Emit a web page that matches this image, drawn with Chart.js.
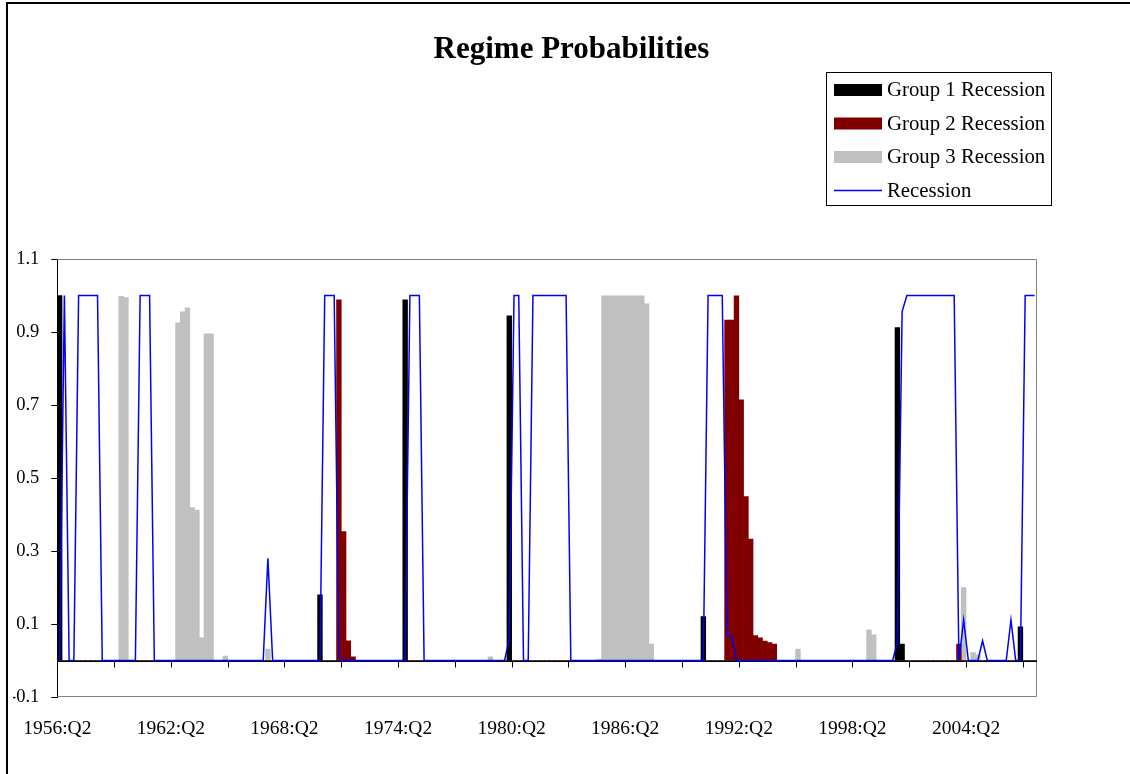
<!DOCTYPE html>
<html>
<head>
<meta charset="utf-8">
<script src="https://cdn.jsdelivr.net/npm/chart.js@4"></script>
<style>
  html, body { margin: 0; padding: 0; background: #fff; }
  canvas { display: block; }
</style>
</head>
<body>
<canvas id="c" width="1130" height="774"></canvas>
<script>
// Quarterly categories, 1956:Q2 through 2007:Q4
const startYear = 1956;
const startQuarter = 2;
const quarterCount = 207;
const quarters = [];
for (let i = 0; i < quarterCount; i++) {
  const n = startQuarter - 1 + i;
  quarters.push((startYear + Math.floor(n / 4)) + ':Q' + (n % 4 + 1));
}

const xTickLabels = ['1956:Q2', '1962:Q2', '1968:Q2', '1974:Q2', '1980:Q2',
                     '1986:Q2', '1992:Q2', '1998:Q2', '2004:Q2'];
const yTickValues = [-0.1, 0.1, 0.3, 0.5, 0.7, 0.9, 1.1];
const yTickLabels = ['-0.1', '0.1', '0.3', '0.5', '0.7', '0.9', '1.1'];

// One row per three years (12 quarters)
const group1 = [
  1.000, 0, 0, 0, 0, 0, 0, 0, 0, 0, 0, 0,          // 1956Q2-
  0, 0, 0, 0, 0, 0, 0, 0, 0, 0, 0, 0,              // 1959Q2-
  0, 0, 0, 0, 0, 0, 0, 0, 0, 0, 0, 0,              // 1962Q2-
  0, 0, 0, 0, 0, 0, 0, 0, 0, 0, 0, 0,              // 1965Q2-
  0, 0, 0, 0, 0, 0, 0, 0.180, 0, 0, 0, 0,          // 1968Q2-
  0, 0, 0, 0, 0, 0, 0, 0, 0, 0, 0, 0,              // 1971Q2-
  0, 0.988, 0, 0, 0, 0, 0, 0, 0, 0, 0, 0,          // 1974Q2-
  0, 0, 0, 0, 0, 0, 0, 0, 0, 0, 0, 0.944,          // 1977Q2-
  0, 0, 0, 0, 0, 0, 0, 0, 0, 0, 0, 0,              // 1980Q2-
  0, 0, 0, 0, 0, 0, 0, 0, 0, 0, 0, 0,              // 1983Q2-
  0, 0, 0, 0, 0, 0, 0, 0, 0, 0, 0, 0,              // 1986Q2-
  0, 0, 0, 0, 0.120, 0, 0, 0, 0, 0, 0, 0,          // 1989Q2-
  0, 0, 0, 0, 0, 0, 0, 0, 0, 0, 0, 0,              // 1992Q2-
  0, 0, 0, 0, 0, 0, 0, 0, 0, 0, 0, 0,              // 1995Q2-
  0, 0, 0, 0, 0, 0, 0, 0, 0, 0.912, 0.045, 0,      // 1998Q2-
  0, 0, 0, 0, 0, 0, 0, 0, 0, 0, 0, 0,              // 2001Q2-
  0, 0, 0, 0, 0, 0, 0, 0, 0, 0, 0, 0.092,          // 2004Q2-
  0, 0, 0                                          // 2007Q2-
];

const group2 = [
  0, 0, 0, 0, 0, 0, 0, 0, 0, 0, 0, 0,
  0, 0, 0, 0, 0, 0, 0, 0, 0, 0, 0, 0,
  0, 0, 0, 0, 0, 0, 0, 0, 0, 0, 0, 0,
  0, 0, 0, 0, 0, 0, 0, 0, 0, 0, 0, 0,
  0, 0, 0, 0, 0, 0, 0, 0, 0, 0, 0, 0.988,
  0.353, 0.054, 0.010, 0, 0, 0, 0, 0, 0, 0, 0, 0,
  0, 0, 0, 0, 0, 0, 0, 0, 0, 0, 0, 0,
  0, 0, 0, 0, 0, 0, 0, 0, 0, 0, 0, 0,
  0, 0, 0, 0, 0, 0, 0, 0, 0, 0, 0, 0,
  0, 0, 0, 0, 0, 0, 0, 0, 0, 0, 0, 0,
  0, 0, 0, 0, 0, 0, 0, 0, 0, 0, 0, 0,
  0, 0, 0, 0, 0, 0, 0, 0, 0, 0.933, 0.933, 0.999,
  0.714, 0.449, 0.333, 0.068, 0.062, 0.053, 0.049, 0.045, 0, 0, 0, 0,
  0, 0, 0, 0, 0, 0, 0, 0, 0, 0, 0, 0,
  0, 0, 0, 0, 0, 0, 0, 0, 0, 0, 0, 0,
  0, 0, 0, 0, 0, 0, 0, 0, 0, 0, 0.045, 0,
  0, 0, 0, 0, 0, 0, 0, 0, 0, 0, 0, 0,
  0, 0, 0
];

const group3 = [
  0, 0, 0, 0, 0, 0, 0, 0, 0, 0, 0, 0,
  0, 0.998, 0.994, 0, 0, 0, 0, 0, 0, 0, 0, 0,
  0, 0.925, 0.955, 0.966, 0.419, 0.412, 0.062, 0.895, 0.895, 0, 0, 0.012,
  0, 0, 0, 0, 0, 0, 0, 0, 0.031, 0, 0, 0,
  0, 0, 0, 0, 0, 0, 0, 0, 0, 0, 0, 0,
  0, 0, 0, 0, 0, 0, 0, 0, 0, 0, 0, 0,
  0, 0, 0, 0, 0, 0, 0, 0, 0, 0, 0, 0,
  0, 0, 0, 0, 0, 0, 0, 0.010, 0, 0, 0, 0,
  0, 0, 0, 0, 0, 0, 0, 0, 0, 0, 0, 0,
  0, 0, 0, 0, 0, 0, 0.003, 0.999, 0.999, 0.999, 0.999, 0.999,
  0.999, 0.999, 0.999, 0.999, 0.977, 0.045, 0, 0, 0, 0, 0, 0,
  0, 0, 0, 0, 0, 0, 0, 0, 0, 0, 0, 0,
  0, 0, 0, 0, 0, 0, 0, 0, 0, 0, 0, 0,
  0.031, 0, 0, 0, 0, 0, 0, 0, 0, 0, 0, 0,
  0, 0, 0, 0.084, 0.070, 0, 0, 0, 0, 0, 0, 0,
  0, 0, 0, 0, 0, 0, 0, 0, 0, 0, 0, 0.200,
  0, 0.022, 0.015, 0, 0, 0, 0, 0, 0, 0, 0, 0,
  0, 0, 0
];

const recession = [
  0, 1, 0, 0, 1, 1, 1, 1, 1, 0, 0, 0,
  0, 0, 0, 0, 0, 1, 1, 1, 0, 0, 0, 0,
  0, 0, 0, 0, 0, 0, 0, 0, 0, 0, 0, 0,
  0, 0, 0, 0, 0, 0, 0, 0, 0.280, 0, 0, 0,
  0, 0, 0, 0, 0, 0, 0, 0, 1, 1, 1, 0.010,
  0, 0, 0, 0, 0, 0, 0, 0, 0, 0, 0, 0,
  0, 0, 1, 1, 1, 0, 0, 0, 0, 0, 0, 0,
  0, 0, 0, 0, 0, 0, 0, 0, 0, 0, 0, 0.060,
  1, 1, 0, 0, 1, 1, 1, 1, 1, 1, 1, 1,
  0, 0, 0, 0, 0, 0, 0, 0, 0, 0, 0, 0,
  0, 0, 0, 0, 0, 0, 0, 0, 0, 0, 0, 0,
  0, 0, 0, 0, 0, 1, 1, 1, 1, 0.067, 0.067, 0,
  0, 0, 0, 0, 0, 0, 0, 0, 0, 0, 0, 0,
  0, 0, 0, 0, 0, 0, 0, 0, 0, 0, 0, 0,
  0, 0, 0, 0, 0, 0, 0, 0, 0, 0.050, 0.956, 1,
  1, 1, 1, 1, 1, 1, 1, 1, 1, 1, 0, 0.111,
  0, 0, 0, 0.054, 0, 0, 0, 0, 0, 0.111, 0, 0,
  1, 1, 1
];

const serif = '"Liberation Serif", "Times New Roman", serif';
Chart.defaults.font.family = serif;
Chart.defaults.color = '#000';

// White page, outer frame
const pageFrame = {
  id: 'pageFrame',
  beforeDraw(chart) {
    const ctx = chart.ctx;
    ctx.save();
    ctx.fillStyle = '#fff';
    ctx.fillRect(0, 0, chart.width, chart.height);
    ctx.restore();
  },
  afterDraw(chart) {
    const ctx = chart.ctx;
    ctx.save();
    ctx.strokeStyle = '#000';
    ctx.lineWidth = 2;
    ctx.strokeRect(7, 3, chart.width + 50, chart.height + 50);
    ctx.restore();
  }
};

// Plot-area outline, zero axis line and its tick marks every 12 quarters
const plotAxes = {
  id: 'plotAxes',
  beforeDatasetsDraw(chart) {
    const { ctx, chartArea: a, scales } = chart;
    const x = scales.x, y = scales.y;
    ctx.save();
    ctx.strokeStyle = '#808080';
    ctx.lineWidth = 1;
    ctx.beginPath();
    ctx.moveTo(a.left, Math.round(a.top) + 0.5);
    ctx.lineTo(Math.round(a.right) - 0.5, Math.round(a.top) + 0.5);
    ctx.lineTo(Math.round(a.right) - 0.5, Math.round(a.bottom) - 0.5);
    ctx.lineTo(a.left, Math.round(a.bottom) - 0.5);
    ctx.stroke();

    const y0 = Math.round(y.getPixelForValue(0)) + 0.5;
    ctx.strokeStyle = '#000';
    ctx.beginPath();
    ctx.moveTo(a.left, y0);
    ctx.lineTo(a.right, y0);
    const step = (x.getPixelForValue(1) - x.getPixelForValue(0));
    for (let i = 12; i < quarters.length; i += 12) {
      const px = Math.round(x.getPixelForValue(i) - step / 2) + 0.5;
      ctx.moveTo(px, y0);
      ctx.lineTo(px, y0 + 6);
    }
    ctx.stroke();
    ctx.restore();
  }
};

// Boxed legend in the upper right
const legendBox = {
  id: 'legendBox',
  afterDraw(chart) {
    const ctx = chart.ctx;
    ctx.save();
    ctx.strokeStyle = '#000';
    ctx.lineWidth = 1;
    ctx.strokeRect(826.5, 72.5, 225, 133);
    ctx.font = '20.8px ' + serif;
    ctx.textBaseline = 'middle';
    chart.data.datasets.forEach((ds, k) => {
      const yy = 90 + 33.5 * k;
      if (ds.type === 'line') {
        ctx.strokeStyle = ds.borderColor;
        ctx.lineWidth = 1.5;
        ctx.beginPath();
        ctx.moveTo(834, yy);
        ctx.lineTo(882, yy);
        ctx.stroke();
      } else {
        ctx.fillStyle = ds.backgroundColor;
        ctx.fillRect(834, yy - 6, 48, 12);
      }
      ctx.fillStyle = '#000';
      ctx.fillText(ds.label, 887, yy + 1);
    });
    ctx.restore();
  }
};

const barCommon = {
  type: 'bar',
  barPercentage: 1,
  categoryPercentage: 1,
  grouped: false,
  borderWidth: 0,
  order: 1
};

new Chart(document.getElementById('c'), {
  type: 'bar',
  data: {
    labels: quarters,
    datasets: [
      Object.assign({ label: 'Group 1 Recession', data: group1, backgroundColor: '#000000' }, barCommon),
      Object.assign({ label: 'Group 2 Recession', data: group2, backgroundColor: '#800000' }, barCommon),
      Object.assign({ label: 'Group 3 Recession', data: group3, backgroundColor: '#C0C0C0' }, barCommon),
      {
        type: 'line',
        label: 'Recession',
        data: recession,
        borderColor: '#0000FF',
        borderWidth: 1.5,
        pointRadius: 0,
        tension: 0,
        fill: false,
        order: 0
      }
    ]
  },
  options: {
    responsive: false,
    animation: false,
    devicePixelRatio: 1,
    layout: { padding: { left: 13, right: 0, top: 0, bottom: 0 } },
    plugins: {
      legend: { display: false },
      tooltip: { enabled: false },
      title: {
        display: true,
        text: 'Regime Probabilities',
        color: '#000',
        font: { size: 31, weight: 'bold', family: serif, lineHeight: 1.2 },
        padding: { top: 31.4, bottom: 190.4 }
      }
    },
    scales: {
      x: {
        type: 'category',
        offset: true,
        grid: { display: false, drawTicks: false },
        border: { display: false },
        ticks: {
          autoSkip: false,
          maxRotation: 0,
          minRotation: 0,
          padding: 20,
          labelOffset: -2.37,
          color: '#000',
          font: { size: 19.5, family: serif },
          callback(value, index) {
            const lab = quarters[index];
            return xTickLabels.includes(lab) ? lab : null;
          }
        },
        afterFit(scale) { scale.height = 77; }
      },
      y: {
        type: 'linear',
        position: 'left',
        min: -0.1,
        max: 1.1,
        grid: { display: true, drawOnChartArea: false, drawTicks: true, tickLength: 6, color: '#000', tickColor: '#000' },
        border: { display: true, color: '#000', width: 1 },
        ticks: {
          padding: 12,
          color: '#000',
          font: { size: 18.5, family: serif },
          callback(value) {
            const k = yTickValues.findIndex(v => Math.abs(v - value) < 1e-9);
            return k >= 0 ? yTickLabels[k] : '';
          }
        },
        afterBuildTicks(scale) {
          scale.ticks = yTickValues.map(v => ({ value: v }));
        },
        afterFit(scale) { scale.width = 44.3; }
      },
      yRight: {
        type: 'linear',
        position: 'right',
        display: true,
        grid: { display: false, drawTicks: false },
        border: { display: false },
        ticks: { display: false },
        afterFit(scale) { scale.width = 93; }
      }
    }
  },
  plugins: [pageFrame, plotAxes, legendBox]
});
</script>
</body>
</html>
